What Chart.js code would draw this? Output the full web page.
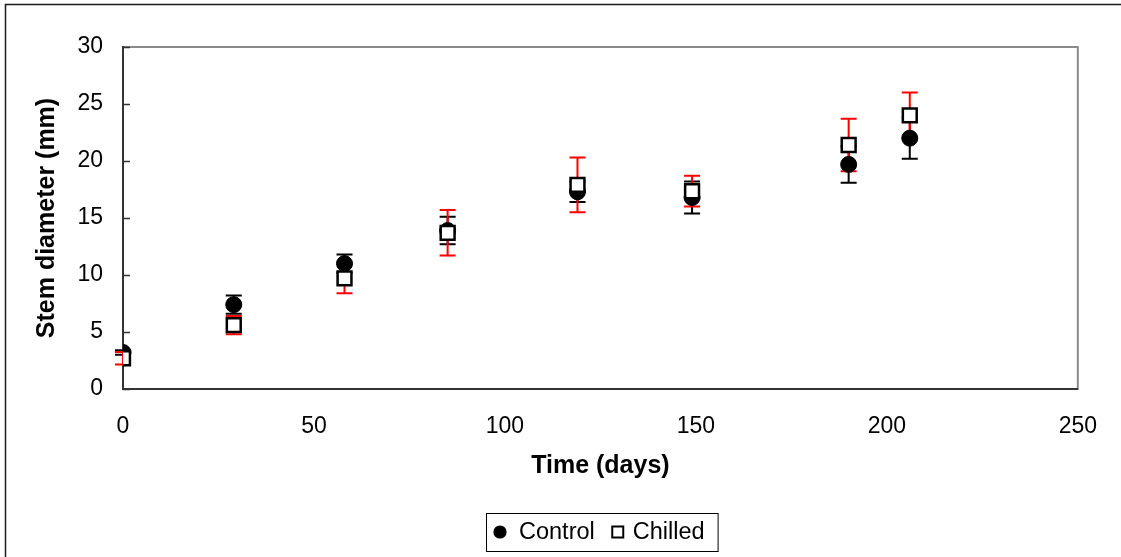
<!DOCTYPE html>
<html>
<head>
<meta charset="utf-8">
<script src="https://cdn.jsdelivr.net/npm/chart.js@4/dist/chart.umd.min.js"></script>
<style>
    html, body { margin: 0; padding: 0; background: #fff; }
    #wrap { width: 1121px; height: 557px; position: relative; }
</style>
</head>
<body>
<div id="wrap"><canvas id="grafica"></canvas></div>
<script>
// Diámetro del tallo en el tiempo (media ± DE)
const dias = [0, 29, 58, 85, 119, 149, 190, 206];
const control = [3.2, 7.4, 11.0, 13.9, 17.3, 16.8, 19.7, 22.0];
const controlDE = [0.2, 0.8, 0.8, 1.2, 0.9, 1.4, 1.6, 1.8];
const enfriado = [2.7, 5.6, 9.7, 13.7, 17.9, 17.35, 21.4, 24.0];
const enfriadoDE = [0.55, 0.8, 1.3, 2.0, 2.4, 1.35, 2.3, 2.0];
const ticksX = [0, 50, 100, 150, 200, 250];
const ticksY = [0, 5, 10, 15, 20, 25, 30];

const fuente = 'Liberation Sans, Arial, sans-serif';

function puntos(valores) {
    return dias.map((d, i) => ({ x: d, y: valores[i] }));
}

// Barras de error con tapas, debajo de los marcadores
const barrasError = {
    id: 'barrasError',
    beforeDatasetsDraw(chart) {
        const ctx = chart.ctx;
        const x = chart.scales.x, y = chart.scales.y;
        const series = [
            { medias: control, de: controlDE, color: '#000000' },
            { medias: enfriado, de: enfriadoDE, color: '#ff0000' }
        ];
        ctx.save();
        ctx.lineWidth = 2;
        series.forEach(s => {
            ctx.strokeStyle = s.color;
            dias.forEach((d, i) => {
                const px = x.getPixelForValue(d);
                const arriba = y.getPixelForValue(s.medias[i] + s.de[i]);
                const abajo = y.getPixelForValue(s.medias[i] - s.de[i]);
                ctx.beginPath();
                ctx.moveTo(px, arriba); ctx.lineTo(px, abajo);
                ctx.moveTo(px - 8, arriba); ctx.lineTo(px + 8, arriba);
                ctx.moveTo(px - 8, abajo); ctx.lineTo(px + 8, abajo);
                ctx.stroke();
            });
        });
        ctx.restore();
    }
};

// Marco exterior, borde gris del área y marcas interiores del eje Y
const marco = {
    id: 'marco',
    beforeDraw(chart) {
        const ctx = chart.ctx;
        ctx.save();
        ctx.fillStyle = '#fff';
        ctx.fillRect(0, 0, chart.width, chart.height);
        ctx.strokeStyle = '#1a1a1a';
        ctx.lineWidth = 1.5;
        ctx.strokeRect(5.5, 4.5, chart.width + 20, chart.height + 20);
        const a = chart.chartArea;
        ctx.strokeStyle = '#8a8a8a';
        ctx.lineWidth = 2;
        ctx.strokeRect(a.left, a.top, a.right - a.left, a.bottom - a.top);
        ctx.restore();
    },
    afterDraw(chart) {
        const ctx = chart.ctx;
        const y = chart.scales.y;
        const a = chart.chartArea;
        ctx.save();
        ctx.strokeStyle = '#333';
        ctx.lineWidth = 1.5;
        ticksY.forEach(v => {
            const py = Math.round(y.getPixelForValue(v)) + 0.5;
            ctx.beginPath();
            ctx.moveTo(a.left, py); ctx.lineTo(a.left + 7, py);
            ctx.stroke();
        });

        // Leyenda con recuadro
        ctx.font = '23.5px ' + fuente;
        ctx.textBaseline = 'middle';
        ctx.fillStyle = '#000';
        const t1 = 'Control', t2 = 'Chilled';
        const w1 = ctx.measureText(t1).width, w2 = ctx.measureText(t2).width;
        const total = 14 + 19 + w1 + 23 + 15 + w2 + 13;
        const izq = Math.round(chart.width / 2 + 41 - total / 2);
        const cy = 532;
        ctx.strokeStyle = '#000';
        ctx.lineWidth = 1;
        ctx.strokeRect(izq + 0.5, 513.5, total, 38);
        ctx.beginPath();
        ctx.arc(izq + 14, cy, 6.6, 0, Math.PI * 2);
        ctx.fill();
        ctx.fillText(t1, izq + 33, cy + 1);
        const xc = izq + 33 + w1 + 23;
        ctx.lineWidth = 2;
        ctx.strokeRect(xc - 5.5, cy - 5.5, 11, 11);
        ctx.fillText(t2, xc + 15, cy + 1);
        ctx.restore();
    }
};

new Chart(document.getElementById('grafica'), {
    type: 'scatter',
    data: {
        datasets: [
            {
                label: 'Control',
                data: puntos(control),
                pointStyle: 'circle',
                pointRadius: 8,
                pointBorderWidth: 1,
                backgroundColor: '#000',
                borderColor: '#000',
                order: 2
            },
            {
                label: 'Chilled',
                data: puntos(enfriado),
                pointStyle: 'rect',
                pointRadius: 9.8,
                pointBorderWidth: 2.5,
                backgroundColor: '#fff',
                borderColor: '#000',
                order: 1
            }
        ]
    },
    plugins: [barrasError, marco],
    options: {
        responsive: true,
        maintainAspectRatio: false,
        animation: false,
        events: [],
        layout: { padding: { top: 47, right: 41, left: 0, bottom: 76 } },
        plugins: {
            legend: { display: false },
            tooltip: { enabled: false }
        },
        scales: {
            x: {
                type: 'linear',
                min: 0,
                max: 250,
                afterBuildTicks: s => { s.ticks = ticksX.map(v => ({ value: v })); },
                afterFit: s => { s.height = 92; },
                grid: { display: false, drawTicks: false },
                border: { display: true, color: '#333', width: 2 },
                ticks: { color: '#000', padding: 24, font: { family: fuente, size: 23 } },
                title: {
                    display: true,
                    text: 'Time (days)',
                    color: '#000',
                    padding: { top: 0, bottom: 0 },
                    font: { family: fuente, size: 25, weight: 'bold' }
                }
            },
            y: {
                min: 0,
                max: 30,
                afterBuildTicks: s => { s.ticks = ticksY.map(v => ({ value: v })); },
                afterFit: s => { s.width = 123; },
                grid: { display: false, drawTicks: false },
                border: { display: true, color: '#333', width: 2 },
                ticks: { color: '#000', padding: 20, font: { family: fuente, size: 23 } },
                title: {
                    display: true,
                    text: 'Stem diameter (mm)',
                    color: '#000',
                    padding: { top: 32, bottom: 0 },
                    font: { family: fuente, size: 25, weight: 'bold' }
                }
            }
        }
    }
});
</script>
</body>
</html>
